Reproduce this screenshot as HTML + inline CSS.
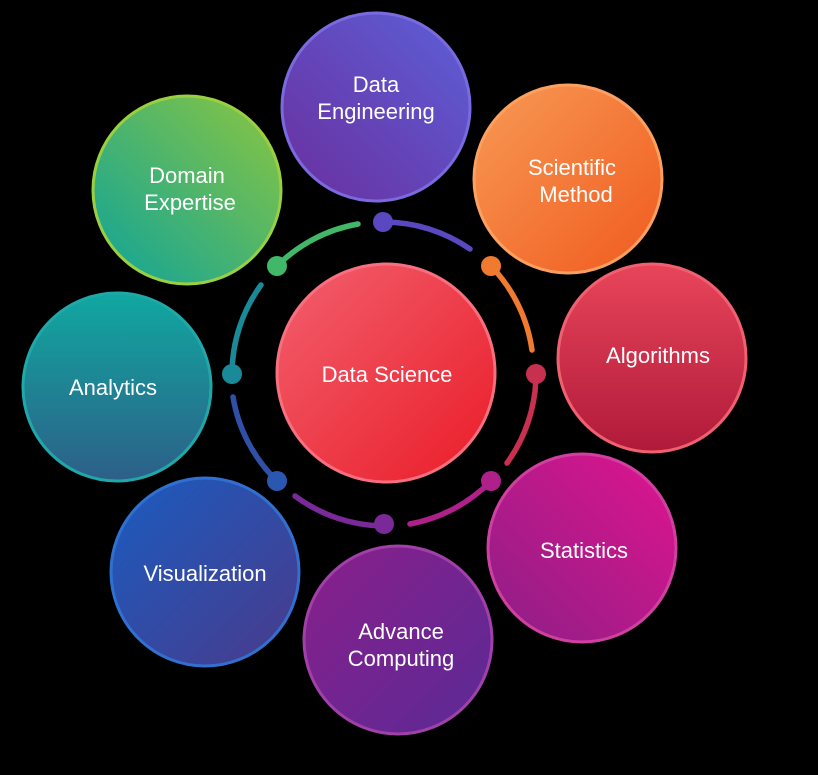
<!DOCTYPE html>
<html><head><style>body{margin:0;background:#000}svg{display:block}text{font-family:"Liberation Sans",Arial,sans-serif;fill:#fff;font-size:22px;text-anchor:middle}</style></head><body>
<svg width="818" height="775" viewBox="0 0 818 775">
<defs>
<linearGradient id="g1" x1="1" y1="0" x2="0" y2="1"><stop offset="0" stop-color="#5d5fd8"/><stop offset="1" stop-color="#6a2f9e"/></linearGradient>
<linearGradient id="g2" x1="0" y1="0" x2="1" y2="1"><stop offset="0" stop-color="#f89a55"/><stop offset="1" stop-color="#f05a1e"/></linearGradient>
<linearGradient id="g3" x1="0" y1="0" x2="0" y2="1"><stop offset="0" stop-color="#e8455a"/><stop offset="1" stop-color="#b01a3a"/></linearGradient>
<linearGradient id="g4" x1="1" y1="0" x2="0" y2="1"><stop offset="0" stop-color="#e0148e"/><stop offset="1" stop-color="#8c1f86"/></linearGradient>
<linearGradient id="g5" x1="0" y1="0" x2="1" y2="1"><stop offset="0" stop-color="#8a1f8a"/><stop offset="1" stop-color="#5a2a96"/></linearGradient>
<linearGradient id="g6" x1="0" y1="0" x2="1" y2="1"><stop offset="0" stop-color="#1a5cc0"/><stop offset="1" stop-color="#4a3a8a"/></linearGradient>
<linearGradient id="g7" x1="0" y1="0" x2="0" y2="1"><stop offset="0" stop-color="#10a8a0"/><stop offset="1" stop-color="#2d5f88"/></linearGradient>
<linearGradient id="g8" x1="1" y1="0" x2="0" y2="1"><stop offset="0" stop-color="#8cc63f"/><stop offset="1" stop-color="#0ea39a"/></linearGradient>
<linearGradient id="gc" x1="0" y1="0" x2="1" y2="1"><stop offset="0" stop-color="#f2606e"/><stop offset="1" stop-color="#ea1c28"/></linearGradient>
</defs>
<g stroke-width="3">
<circle cx="376" cy="107" r="94" fill="url(#g1)" stroke="#7a6ae0"/>
<circle cx="568" cy="179" r="94" fill="url(#g2)" stroke="#fba060"/>
<circle cx="652" cy="358" r="94" fill="url(#g3)" stroke="#f06070"/>
<circle cx="582" cy="548" r="94" fill="url(#g4)" stroke="#d040a0"/>
<circle cx="398" cy="640" r="94" fill="url(#g5)" stroke="#a040a8"/>
<circle cx="205" cy="572" r="94" fill="url(#g6)" stroke="#3070d0"/>
<circle cx="117" cy="387" r="94" fill="url(#g7)" stroke="#20a8a8"/>
<circle cx="187" cy="190" r="94" fill="url(#g8)" stroke="#9ad040"/>
<circle cx="386" cy="373" r="109" fill="url(#gc)" stroke="#f87080"/>
</g>
<g fill="none" stroke-width="5.5" stroke-linecap="round">
<path d="M384 222 A152 152 0 0 1 470 249" stroke="#5a48c0"/>
<path d="M491 266 A152 152 0 0 1 532 350" stroke="#f07a30"/>
<path d="M536 374 A152 152 0 0 1 507 463" stroke="#c83050"/>
<path d="M491 481 A152 152 0 0 1 410 524" stroke="#b0208a"/>
<path d="M384 526 A152 152 0 0 1 295 496" stroke="#7a2a98"/>
<path d="M277 481 A152 152 0 0 1 233 397" stroke="#3050a8"/>
<path d="M232 374 A152 152 0 0 1 261 285" stroke="#1a8a98"/>
<path d="M277 266 A152 152 0 0 1 358 224" stroke="#40b868"/>
</g>
<g>
<circle cx="383" cy="222" r="10" fill="#5a48c0"/>
<circle cx="491" cy="266" r="10" fill="#f07a30"/>
<circle cx="536" cy="374" r="10" fill="#c83050"/>
<circle cx="491" cy="481" r="10" fill="#b0208a"/>
<circle cx="384" cy="524" r="10" fill="#7a2a98"/>
<circle cx="277" cy="481" r="10" fill="#2a58b0"/>
<circle cx="232" cy="374" r="10" fill="#1a8a98"/>
<circle cx="277" cy="266" r="10" fill="#40b868"/>
</g>
<text x="376" y="92">Data</text><text x="376" y="119">Engineering</text>
<text x="572" y="175">Scientific</text><text x="576" y="202">Method</text>
<text x="658" y="363">Algorithms</text>
<text x="584" y="558">Statistics</text>
<text x="401" y="639">Advance</text><text x="401" y="666">Computing</text>
<text x="205" y="581">Visualization</text>
<text x="113" y="395">Analytics</text>
<text x="187" y="183">Domain</text><text x="190" y="210">Expertise</text>
<text x="387" y="382" font-size="24">Data Science</text>
</svg>
</body></html>
